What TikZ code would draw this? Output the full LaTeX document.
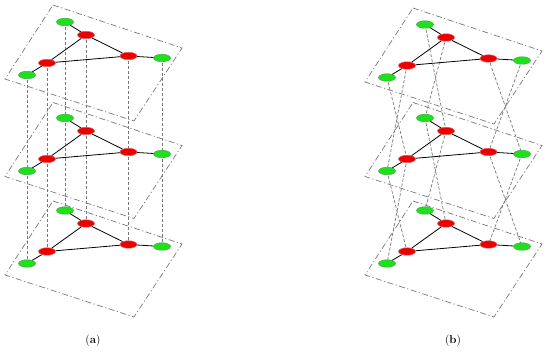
\documentclass[tikz,border=0pt]{standalone}
\usetikzlibrary{shapes.geometric,backgrounds}
\definecolor{gfill}{RGB}{30,225,30}
\definecolor{gdraw}{RGB}{70,170,70}
\definecolor{rfill}{RGB}{235,0,0}
\definecolor{rdraw}{RGB}{225,100,100}
\definecolor{lgray}{RGB}{120,120,120}
\tikzset{
  gnode/.style={ellipse,fill=gfill,draw=gdraw,line width=0.5pt,minimum width=17pt,minimum height=7.5pt,inner sep=0pt},
  rnode/.style={ellipse,fill=rfill,draw=rdraw,line width=0.5pt,minimum width=17pt,minimum height=7.5pt,inner sep=0pt},
  edge/.style={draw=black,line width=0.8pt},
  plane/.style={draw=lgray,line width=0.7pt,dash pattern=on 6pt off 2.5pt on 1.2pt off 2.5pt},
  vlink/.style={draw=lgray,line width=0.7pt,dash pattern=on 3.2pt off 1.8pt},
  lab/.style={font=\fontsize{11.5}{13}\selectfont,inner sep=0pt}
}
% #1 prefix, #2,#3 plane shift, #4,#5 node shift
\newcommand\mylayer[5]{%
  \begin{scope}[shift={(#2,#3)}]
    \draw[plane] (53,5) -- (182,48) -- (134,121) -- (5,79) -- cycle;
  \end{scope}
  \begin{scope}[shift={(#4,#5)}]
    \node[gnode] (#1gt) at (65,22) {};
    \node[rnode] (#1rt) at (86,35) {};
    \node[rnode] (#1rr) at (128.5,56) {};
    \node[gnode] (#1gr) at (162,58) {};
    \node[rnode] (#1rl) at (47,63) {};
    \node[gnode] (#1gl) at (27,75) {};
  \end{scope}
  \draw[edge] (#1gt) -- (#1rt);
  \draw[edge] (#1rt) -- (#1rr);
  \draw[edge] (#1rt) -- (#1rl);
  \draw[edge] (#1rl) -- (#1rr);
  \draw[edge] (#1rr) -- (#1gr);
  \draw[edge] (#1rl) -- (#1gl);
}
\begin{document}
\begin{tikzpicture}[x=1pt,y=-1pt]
\useasboundingbox (0,0) rectangle (550,352);
% panel (a)
\mylayer{aA}{0}{0}{0}{0}
\mylayer{aB}{0}{97.5}{0}{96}
\mylayer{aC}{0}{196}{0}{188.5}
% panel (b)
\mylayer{bA}{360}{3}{360}{2.5}
\mylayer{bB}{360}{97.5}{360}{96}
\mylayer{bC}{360}{196}{360}{188.5}
\begin{pgfonlayer}{background}
  \foreach \u/\v in {aA/aB,aB/aC}{
    \foreach \n in {gt,rt,rr,gr,rl,gl}{
      \draw[vlink] (\u\n.center) -- (\v\n.center);
    }
  }
  \foreach \u/\v in {bA/bB,bB/bC}{
    \foreach \p/\q in {gt/rt,rt/gt,rr/gr,gr/rr,rl/gl,gl/rl}{
      \draw[vlink] (\u\p.center) -- (\v\q.center);
    }
  }
\end{pgfonlayer}
\node[lab] (la) at (93,341) {(\textbf{a})};
\node[lab] (lb) at (453,341) {(\textbf{b})};
\end{tikzpicture}
\end{document}
